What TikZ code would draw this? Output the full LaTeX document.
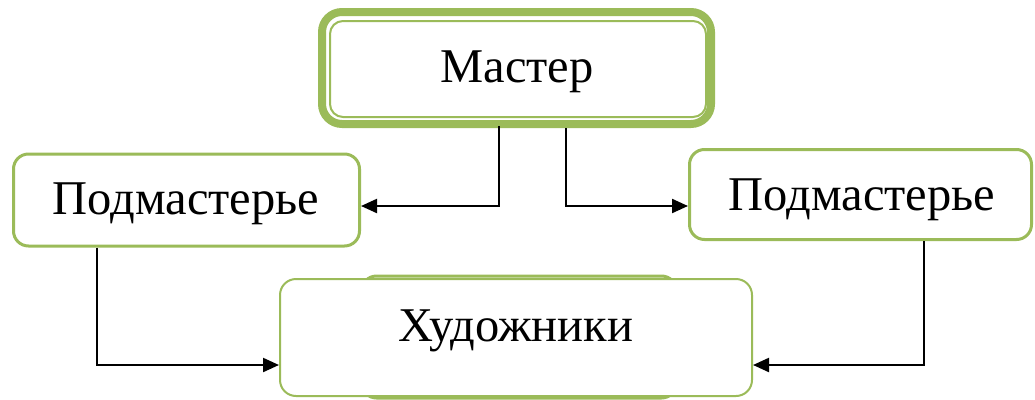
\documentclass[tikz,border=0pt]{standalone}
\usepackage{fontspec}
\setmainfont{Liberation Serif}
\usetikzlibrary{arrows.meta,calc}
\definecolor{olive}{HTML}{9BBB59}
\tikzset{
  box/.style={draw=olive, line width=3pt, rounded corners=15pt, fill=white, inner sep=0pt},
  lbl/.style={anchor=base, inner sep=0pt, font=\fontsize{48.5}{58}\selectfont},
  conn/.style={draw=black, line width=2.2pt, -{Triangle[length=16pt,width=14pt]}}
}
\begin{document}
\begin{tikzpicture}[x=1pt,y=-1pt]
\useasboundingbox (0,0) rectangle (1035,399);
% top box
\node[box, line width=8pt, rounded corners=20pt, minimum width=389pt, minimum height=112pt] (m) at (516.5,68) {};
\node[box, line width=2pt, rounded corners=13pt, minimum width=376pt, minimum height=96pt] (mi) at (518,69) {};
\node[lbl] (mt) at (517,82) {Мастер};
% left and right boxes
\node[box, minimum width=346pt, minimum height=92pt] (pl) at (186.5,200) {};
\node[lbl] (plt) at (186,214) {Подмастерье};
\node[box, minimum width=342pt, minimum height=90pt] (pr) at (860.5,194.5) {};
\node[lbl] (prt) at (862,210) {Подмастерье};
% bottom boxes
\node[box, minimum width=315pt, minimum height=122pt] (hb) at (519,337) {};
\node[box, line width=2pt, rounded corners=16pt, minimum width=472pt, minimum height=117pt] (h) at (516,337.5) {};
\node[lbl] (ht) at (516,341) {Художники};
% connectors
\draw[conn] ($(m.south)+(-17.5,-2)$) |- ($(pl.east)+(0,6)$);
\draw[conn] ($(m.south)+(49.5,0)$) |- ($(pr.west)+(0,11.5)$);
\draw[conn] ($(pl.south)+(-89.5,0)$) |- ($(h.west)+(0,27.5)$);
\draw[conn] ($(pr.south)+(63.5,0)$) |- ($(h.east)+(0,27.5)$);
\end{tikzpicture}
\end{document}
